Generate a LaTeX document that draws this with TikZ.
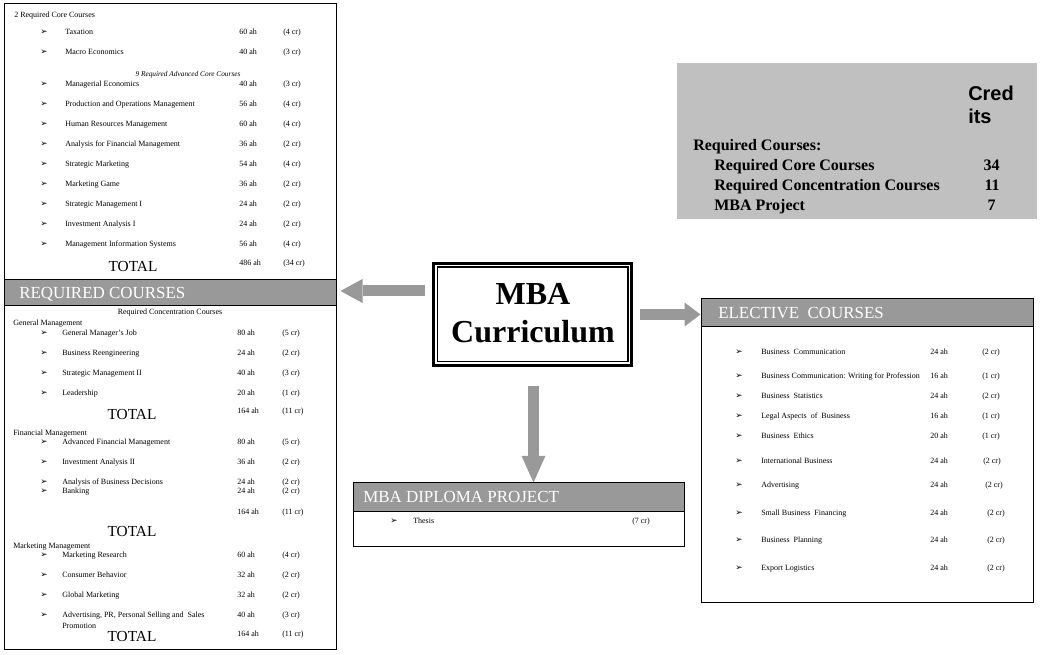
\documentclass[tikz,border=0pt]{standalone}
\usepackage{fontspec}
\setmainfont{Liberation Serif}
\newfontfamily\arialf{Liberation Sans}
\newfontfamily\dejavuf{DejaVu Sans}
\usetikzlibrary{arrows.meta,fit,calc}
\definecolor{bargray}{RGB}{153,153,153}
\definecolor{credgray}{RGB}{192,192,192}
\tikzset{
 smtxt/.style={anchor=mid west, inner sep=0pt, font=\fontsize{6}{7}\selectfont},
 bultxt/.style={anchor=mid west, inner sep=0pt, font=\dejavuf\fontsize{6.5}{7}\selectfont},
 totaltxt/.style={inner sep=0pt, font=\fontsize{11.5}{13}\selectfont},
 panelbox/.style={draw=black, line width=0.75pt, inner sep=0pt, fill=white},
 barbox/.style={draw=black, line width=0.75pt, fill=bargray, inner sep=0pt},
 bartxt/.style={anchor=west, inner sep=0pt, text=white, font=\fontsize{12.7}{14}\selectfont},
 bigarrow/.style={draw=bargray, line width=8.25pt},
 credtxt/.style={anchor=mid west, inner sep=0pt, font=\bfseries\fontsize{12}{14}\selectfont},
 crednum/.style={anchor=mid east, inner sep=0pt, font=\bfseries\fontsize{12}{14}\selectfont},
}
\newcommand\crsrow[9]{%
 \node[bultxt] (#1b) at (#3,#2) {➢};
 \node[smtxt] (#1t) at (#4,#2) {#5};
 \node[smtxt] (#1h) at (#6,#2) {#7};
 \node[smtxt] (#1c) at (#8,#2) {#9};}
\begin{document}
\begin{tikzpicture}[x=0.75pt,y=-0.75pt]
\useasboundingbox (0,0) rectangle (1040,655);
\fill[white] (0,0) rectangle (1040,655);

% ---------- left: required courses ----------
\node[panelbox, fit={(4,4) (336,280)}] (coretop) {};
\node[panelbox, fit={(4,306) (336,650)}] (conc) {};
\node[barbox, fit={(4,280) (336,306)}] (reqbar) {};
\node[bartxt] (reqlbl) at (19,294) {REQUIRED COURSES};

\node[smtxt] (corehead) at (14,14) {2 Required Core Courses};
\crsrow{ca}{31}{40}{65}{Taxation}{239}{60 ah}{283}{(4 cr)}
\crsrow{cb}{51}{40}{65}{Macro Economics}{239}{40 ah}{283}{(3 cr)}
\node[inner sep=0pt, font=\itshape\fontsize{5.5}{6}\selectfont] (advhead) at (188,75) {9 Required Advanced Core Courses};
\crsrow{cc}{83}{40}{65}{Managerial Economics}{239}{40 ah}{283}{(3 cr)}
\crsrow{cd}{103}{40}{65}{Production and Operations Management}{239}{56 ah}{283}{(4 cr)}
\crsrow{ce}{123}{40}{65}{Human Resources Management}{239}{60 ah}{283}{(4 cr)}
\crsrow{cf}{143}{40}{65}{Analysis for Financial Management}{239}{36 ah}{283}{(2 cr)}
\crsrow{cg}{163}{40}{65}{Strategic Marketing}{239}{54 ah}{283}{(4 cr)}
\crsrow{ch}{183}{40}{65}{Marketing Game}{239}{36 ah}{283}{(2 cr)}
\crsrow{ci}{203}{40}{65}{Strategic Management I}{239}{24 ah}{283}{(2 cr)}
\crsrow{cj}{223}{40}{65}{Investment Analysis I}{239}{24 ah}{283}{(2 cr)}
\crsrow{ck}{243}{40}{65}{Management Information Systems}{239}{56 ah}{283}{(4 cr)}
\node[totaltxt] (tot1) at (133,267) {TOTAL};
\node[smtxt] (tot1h) at (239,262) {486 ah};
\node[smtxt] (tot1c) at (283,262) {(34 cr)};

\node[inner sep=0pt, font=\fontsize{6}{7}\selectfont] (conchead) at (170,313) {Required Concentration Courses};
\node[smtxt] (gmhead) at (13,322) {General Management};
\crsrow{ga}{332}{40}{62}{General Manager's Job}{237}{80 ah}{282}{(5 cr)}
\crsrow{gb}{352}{40}{62}{Business Reengineering}{237}{24 ah}{282}{(2 cr)}
\crsrow{gc}{372}{40}{62}{Strategic Management II}{237}{40 ah}{282}{(3 cr)}
\crsrow{gd}{392}{40}{62}{Leadership}{237}{20 ah}{282}{(1 cr)}
\node[totaltxt] (tot2) at (132,415) {TOTAL};
\node[smtxt] (tot2h) at (237,410) {164 ah};
\node[smtxt] (tot2c) at (282,410) {(11 cr)};

\node[smtxt] (fmhead) at (13,432) {Financial Management};
\crsrow{fa}{441}{40}{62}{Advanced Financial Management}{237}{80 ah}{282}{(5 cr)}
\crsrow{fb}{461}{40}{62}{Investment Analysis II}{237}{36 ah}{282}{(2 cr)}
\crsrow{fc}{481}{40}{62}{Analysis of Business Decisions}{237}{24 ah}{282}{(2 cr)}
\crsrow{fd}{490}{40}{62}{Banking}{237}{24 ah}{282}{(2 cr)}
\node[smtxt] (tot3h) at (237,511) {164 ah};
\node[smtxt] (tot3c) at (282,511) {(11 cr)};
\node[totaltxt] (tot3) at (132,532) {TOTAL};

\node[smtxt] (mmhead) at (13,545) {Marketing Management};
\crsrow{ma}{554}{40}{62}{Marketing Research}{237}{60 ah}{282}{(4 cr)}
\crsrow{mb}{574}{40}{62}{Consumer Behavior}{237}{32 ah}{282}{(2 cr)}
\crsrow{mc}{594}{40}{62}{Global Marketing}{237}{32 ah}{282}{(2 cr)}
\crsrow{md}{614}{40}{62}{Advertising, PR, Personal Selling and \ Sales}{237}{40 ah}{282}{(3 cr)}
\node[smtxt] (mdt2) at (62,625) {Promotion};
\node[totaltxt] (tot4) at (132,637) {TOTAL};
\node[smtxt] (tot4h) at (237,633) {164 ah};
\node[smtxt] (tot4c) at (282,633) {(11 cr)};

% ---------- right: elective courses ----------
\node[panelbox, fit={(701,327) (1033,603)}] (elec) {};
\node[barbox, fit={(701,299) (1033,327)}] (elecbar) {};
\node[bartxt] (eleclbl) at (718,313) {ELECTIVE \ COURSES};
\crsrow{ea}{351}{735}{761}{Business \ Communication}{930}{24 ah}{982}{(2 cr)}
\crsrow{eb}{375}{735}{761}{Business Communication: Writing for Profession}{930}{16 ah}{982}{(1 cr)}
\crsrow{ec}{395}{735}{761}{Business \ Statistics}{930}{24 ah}{982}{(2 cr)}
\crsrow{ed}{415}{735}{761}{Legal Aspects \ of \ Business}{930}{16 ah}{982}{(1 cr)}
\crsrow{ee}{435}{735}{761}{Business \ Ethics}{930}{20 ah}{982}{(1 cr)}
\crsrow{ef}{460}{735}{761}{International Business}{930}{24 ah}{983}{(2 cr)}
\crsrow{eg}{484}{735}{761}{Advertising}{930}{24 ah}{985}{(2 cr)}
\crsrow{eh}{512}{735}{761}{Small Business \ Financing}{930}{24 ah}{987}{(2 cr)}
\crsrow{ei}{539}{735}{761}{Business \ Planning}{930}{24 ah}{987}{(2 cr)}
\crsrow{ej}{567}{735}{761}{Export Logistics}{930}{24 ah}{987}{(2 cr)}

% ---------- diploma project ----------
\node[panelbox, fit={(353,512) (684,547)}] (dipl) {};
\node[barbox, fit={(353,483) (684,512)}] (diplbar) {};
\node[bartxt] (dipllbl) at (363,497) {MBA DIPLOMA PROJECT};
\node[bultxt] (tab) at (390,520) {➢};
\node[smtxt] (tat) at (413,520) {Thesis};
\node[smtxt] (tac) at (632,520) {(7 cr)};

% ---------- credits summary ----------
\node[fill=credgray, inner sep=0pt, fit={(677,63) (1037,219)}] (credbox) {};
\node[anchor=mid west, inner sep=0pt, font=\arialf\bfseries\fontsize{15}{17}\selectfont] (credA) at (968,97) {Cred};
\node[anchor=mid west, inner sep=0pt, font=\arialf\bfseries\fontsize{15}{17}\selectfont] (credB) at (968,120) {its};
\node[credtxt] (rqc) at (693,147) {Required Courses:};
\node[credtxt] (rq1) at (714,167) {Required Core Courses};
\node[crednum] (rq1n) at (1000,167) {34};
\node[credtxt] (rq2) at (714,187) {Required Concentration Courses};
\node[crednum] (rq2n) at (1000,187) {11};
\node[credtxt] (rq3) at (714,207) {MBA Project};
\node[crednum] (rq3n) at (996,207) {7};

% ---------- centre ----------
\node[draw=black, line width=2.2pt, inner sep=0pt, fill=white, fit={(433.5,263.5) (631.5,365.5)}] (mba) {};
\draw[line width=0.8pt] ([shift={(5,5)}]mba.north west) rectangle ([shift={(-5,-5)}]mba.south east);
\node[inner sep=0pt, font=\bfseries\fontsize{24}{28}\selectfont] (mbaA) at (533,294) {MBA};
\node[inner sep=0pt, font=\bfseries\fontsize{24}{28}\selectfont] (mbaB) at (533,332) {Curriculum};

% ---------- arrows ----------
\draw[bigarrow, shorten <=5.25pt, -{Triangle[length=16.5pt, width=18pt, line width=0pt]}]
  ([yshift=1.5pt]mba.west |- reqbar.east) -- ([xshift=3pt,yshift=1.5pt]reqbar.east);
\draw[bigarrow, shorten <=5.25pt, -{Triangle[length=12pt, width=18pt, line width=0pt]}]
  (mba.east) -- (mba.east -| elecbar.west);
\draw[bigarrow, shorten <=14pt, -{Triangle[length=20pt, width=18pt, line width=0pt]}]
  ([xshift=0.75pt]mba.south) -- ([xshift=0.75pt]mba.south |- diplbar.north);
\end{tikzpicture}
\end{document}
